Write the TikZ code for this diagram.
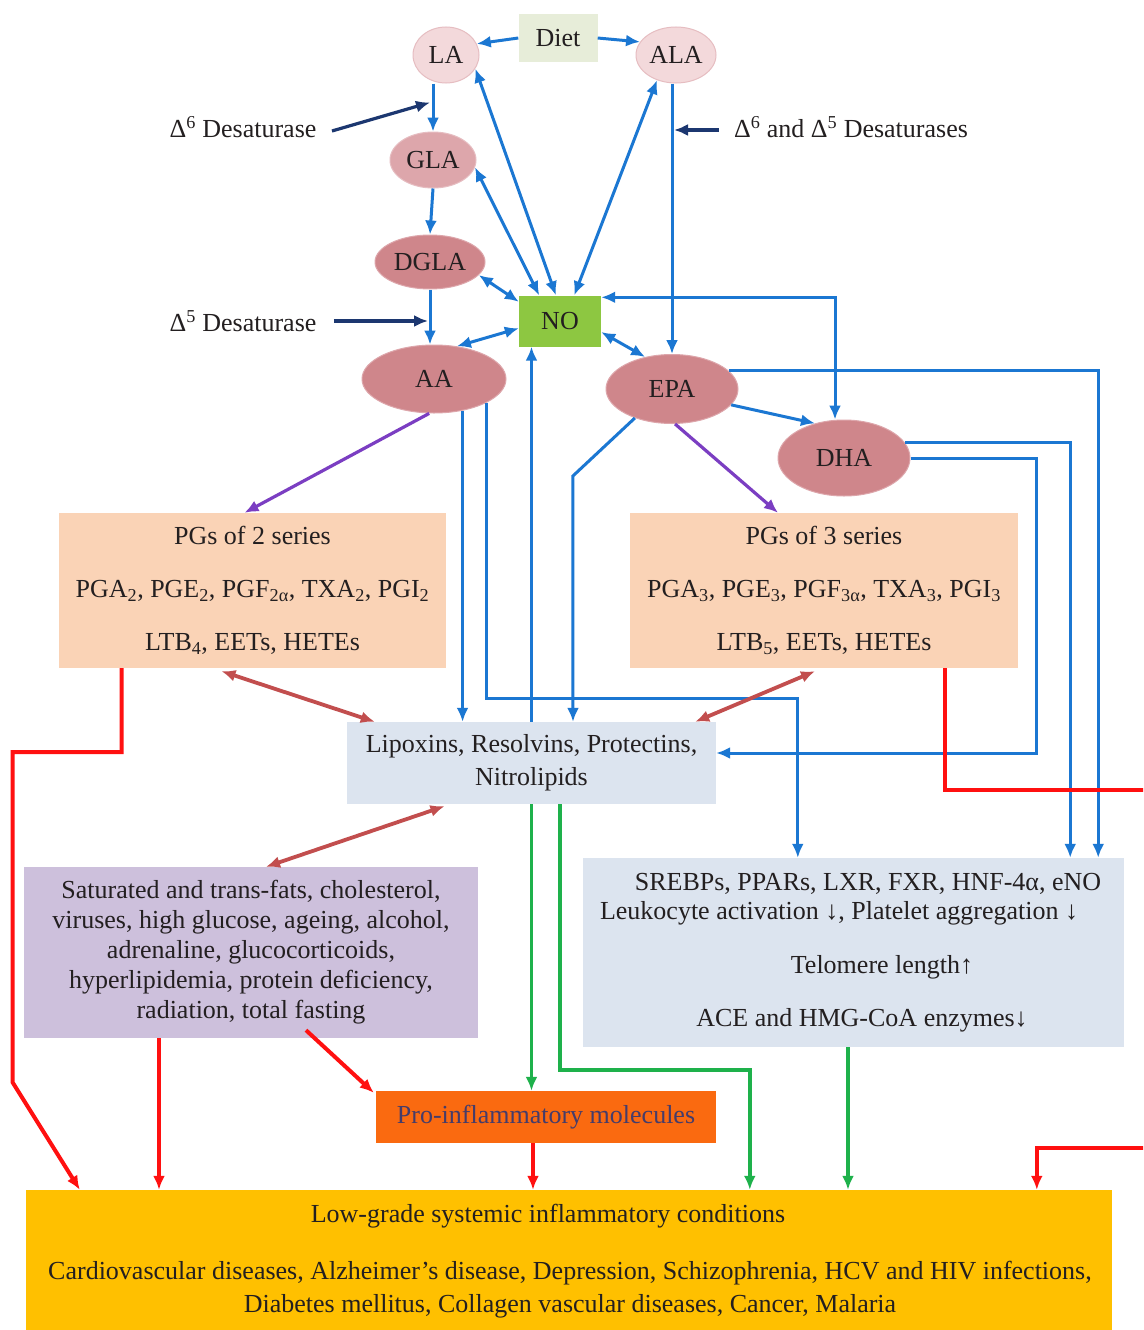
\documentclass[tikz,border=0pt]{standalone}
\usepackage{fontspec}
\setmainfont{Liberation Serif}
\usetikzlibrary{arrows.meta,shapes.geometric}
\definecolor{cBlue}{HTML}{1B77D2}
\definecolor{cNavy}{HTML}{1C3770}
\definecolor{cRed}{HTML}{FF1010}
\definecolor{cGreen}{HTML}{1EB14B}
\definecolor{cPurple}{HTML}{7B3EC2}
\definecolor{cBrown}{HTML}{C24E4E}
\definecolor{cLA}{HTML}{F3D9DB}
\definecolor{cLAd}{HTML}{E6BDC1}
\definecolor{cGLA}{HTML}{DDA6AB}
\definecolor{cDark}{HTML}{CF868B}
\definecolor{cDiet}{HTML}{E7EDD9}
\definecolor{cNO}{HTML}{8DC741}
\definecolor{cPG}{HTML}{FAD3B6}
\definecolor{cLip}{HTML}{DCE4EF}
\definecolor{cSat}{HTML}{CDC0DC}
\definecolor{cPro}{HTML}{FA6A10}
\definecolor{cProT}{HTML}{453C6A}
\definecolor{cLow}{HTML}{FFC000}
\definecolor{cText}{HTML}{231F20}
\begin{document}
\begin{tikzpicture}[x=1pt,y=-1pt,
  txt/.style={font=\fontsize{26}{30}\selectfont, text=cText},
  oval/.style={ellipse, txt, inner sep=0pt, line width=1pt},
  rbox/.style={rectangle, txt, inner sep=0pt, align=center},
  tipA/.style={-{Latex[length=14pt,width=12pt]}},
  tipB/.style={{Latex[length=14pt,width=12pt]}-{Latex[length=14pt,width=12pt]}},
  bl/.style={draw=cBlue, line width=3pt, tipA},
  bld/.style={draw=cBlue, line width=3pt, tipB},
  nv/.style={draw=cNavy, line width=3.2pt, tipA},
  rd/.style={draw=cRed, line width=4pt, tipA},
  gr/.style={draw=cGreen, line width=3.5pt, tipA},
  pu/.style={draw=cPurple, line width=3.2pt, tipA},
  br/.style={draw=cBrown, line width=3.8pt, tipB},
  lbl/.style={txt}
]
\clip (0,0) rectangle (1143,1330);
\fill[white] (0,0) rectangle (1143,1330);

% ---- nodes ----
\node[rbox, fill=cDiet, minimum width=79, minimum height=48] (Diet) at (558,38) {Diet};
\node[oval, fill=cLA, draw=cLAd, minimum width=66, minimum height=56] (LA) at (446,55) {LA};
\node[oval, fill=cLA, draw=cLAd, minimum width=80, minimum height=56] (ALA) at (676,55) {ALA};
\node[oval, fill=cGLA, draw=cLAd, minimum width=86, minimum height=56] (GLA) at (433,160) {GLA};
\node[oval, fill=cDark, draw=cGLA, minimum width=110, minimum height=54] (DGLA) at (430,262) {DGLA};
\node[rbox, fill=cNO, minimum width=82, minimum height=51] (NO) at (560,321) {NO};
\node[oval, fill=cDark, draw=cGLA, minimum width=144, minimum height=68] (AA) at (434,379) {AA};
\node[oval, fill=cDark, draw=cGLA, minimum width=132, minimum height=69] (EPA) at (672,389) {EPA};
\node[oval, fill=cDark, draw=cGLA, minimum width=132, minimum height=76] (DHA) at (844,458) {DHA};

\node[lbl] (d6) at (243,127) {Δ\textsuperscript{6} Desaturase};
\node[lbl] (d65) at (851,127) {Δ\textsuperscript{6} and Δ\textsuperscript{5} Desaturases};
\node[lbl] (d5) at (243,321) {Δ\textsuperscript{5} Desaturase};

\node[rbox, fill=cPG, minimum width=387, minimum height=155] (PG2) at (252.5,590.5)
  {PGs of 2 series\\[23pt]
   PGA\textsubscript{2}, PGE\textsubscript{2}, PGF\textsubscript{2α}, TXA\textsubscript{2}, PGI\textsubscript{2}\\[23pt]
   LTB\textsubscript{4}, EETs, HETEs};
\node[rbox, fill=cPG, minimum width=388, minimum height=155] (PG3) at (824,590.5)
  {PGs of 3 series\\[23pt]
   PGA\textsubscript{3}, PGE\textsubscript{3}, PGF\textsubscript{3α}, TXA\textsubscript{3}, PGI\textsubscript{3}\\[23pt]
   LTB\textsubscript{5}, EETs, HETEs};

\node[rbox, fill=cLip, minimum width=369, minimum height=82, font=\fontsize{26}{33}\selectfont] (Lip) at (531.5,763)
  {Lipoxins, Resolvins, Protectins,\\Nitrolipids};
\node[rbox, fill=cSat, minimum width=454, minimum height=171] (Sat) at (251,952.5)
  {Saturated and trans-fats, cholesterol,\\viruses, high glucose, ageing, alcohol,\\adrenaline, glucocorticoids,\\hyperlipidemia, protein deficiency,\\radiation, total fasting};
\node[rbox, fill=cLip, minimum width=541, minimum height=189] (SREB) at (853.5,952.5) {};
\node[lbl] (sA) at (868,884) {SREBPs, PPARs, LXR, FXR, HNF-4α, eNO};
\node[lbl] (sB) at (839,913) {Leukocyte activation ↓, Platelet aggregation ↓};
\node[lbl] (sC) at (882,967) {Telomere length↑};
\node[lbl] (sD) at (862,1020) {ACE and HMG-CoA enzymes↓};

\node[rbox, fill=cPro, minimum width=340, minimum height=52, text=cProT] (Pro) at (546,1117) {Pro-inflammatory molecules};
\node[rbox, fill=cLow, minimum width=1086, minimum height=155] (Low) at (569,1267.5) {};
\node[lbl] (lowA) at (548,1216) {Low-grade systemic inflammatory conditions};
\node[lbl, align=center, font=\fontsize{26}{33}\selectfont] (lowB) at (570,1290)
  {Cardiovascular diseases, Alzheimer’s disease, Depression, Schizophrenia, HCV and HIV infections,\\Diabetes mellitus, Collagen vascular diseases, Cancer, Malaria};

% ---- helper points on the vertical chain lines ----
\coordinate (k6) at ([yshift=-19pt]LA.south -| GLA.north);
\coordinate (k65) at (d65.west -| EPA.north);
\coordinate (k5) at (d5.east -| DGLA.south);

% ---- blue connectors ----
\draw[bl] (Diet.west) -- (LA.20);
\draw[bl] (Diet.east) -- (ALA.160);
\draw[bl] (GLA.north |- LA.south) -- (GLA.north);
\draw[bl] (GLA.south) -- (DGLA.north);
\draw[bl] (DGLA.south) -- (DGLA.south |- AA.north);
\draw[bl] (ALA.south -| EPA.north) -- (EPA.north);
\draw[bld] (LA.-25) -- (NO.99);
\draw[bld] (GLA.-10) -- (NO.129);
\draw[bld] (ALA.233) -- (NO.61);
\draw[bld] (DGLA.-15) -- (NO.155);
\draw[bld] (NO.190) -- (AA.55);
\draw[bld] (NO.-15) -- (EPA.130);
\draw[bl] (Lip.north) -- (Lip.north |- NO.south);
\draw[bld] ([yshift=-2pt]NO.north east) -| ([xshift=-9pt]DHA.north);
\draw[bl] (EPA.-15) -- (DHA.130);
\draw[bl] (EPA.18) -| ([xshift=-26pt]SREB.north east);
\draw[bl] (DHA.14) -| ([xshift=-54pt]SREB.north east);
\draw[bl] (DHA.east) -- ++(126,0) |- ([yshift=10pt]Lip.east);
\draw[bl] (AA.-48) -- (AA.-48 |- Lip.north);
\draw[bl] (AA.-24) -- ++(0,296) -| ([xshift=215pt]SREB.north west);
\draw[bl] (EPA.218) -- ++(-62,58) -- ([xshift=41.5pt]Lip.north);

% ---- desaturase arrows ----
\draw[nv] ([xshift=12pt,yshift=-4pt]d6.east) -- ([xshift=-3pt]k6);
\draw[nv] ([xshift=-12pt,yshift=-3pt]d65.west) -- ([xshift=2pt,yshift=-3pt]k65);
\draw[nv] ([xshift=14pt]d5.east) -- ([xshift=-2pt]k5);

% ---- purple ----
\draw[pu] (AA.262) -- ([xshift=-8pt]PG2.north);
\draw[pu] (EPA.275) -- ([xshift=-46pt]PG3.north);

% ---- brown double arrows ----
\draw[br] ([xshift=-31pt,yshift=-3pt]PG2.south) -- ([xshift=28pt]Lip.north west);
\draw[br] ([xshift=-9pt,yshift=-3pt]PG3.south) -- ([xshift=-21pt]Lip.north east);
\draw[br] ([xshift=-87pt,yshift=-2pt]Lip.south) -- ([xshift=15pt]Sat.north);

% ---- red ----
\draw[rd] ([xshift=-131pt]PG2.south) -- ++(0,84) -- ++(-109,0) -- ++(0,330) -- ([xshift=54pt]Low.north west);
\draw[rd] ([xshift=-92pt]Sat.south) -- ([xshift=-92pt]Sat.south |- Low.north);
\draw[rd] ([xshift=55pt,yshift=8pt]Sat.south) -- ([xshift=-2pt,yshift=-2pt]Pro.north west);
\draw[rd] ([xshift=-13pt]Pro.south) -- ([xshift=-13pt]Pro.south |- Low.north);
\draw[rd] ([xshift=121pt]PG3.south) -- ++(0,122) -- ++(215,0) -- ++(0,358) -| ([xshift=1011pt]Low.north west);

% ---- green ----
\draw[gr] (Lip.south) -- (Lip.south |- Pro.north);
\draw[gr] ([xshift=28.5pt]Lip.south) -- ++(0,266) -| ([xshift=724pt]Low.north west);
\draw[gr] ([xshift=-5.5pt]SREB.south) -- ([xshift=-5.5pt]SREB.south |- Low.north);
\end{tikzpicture}
\end{document}
